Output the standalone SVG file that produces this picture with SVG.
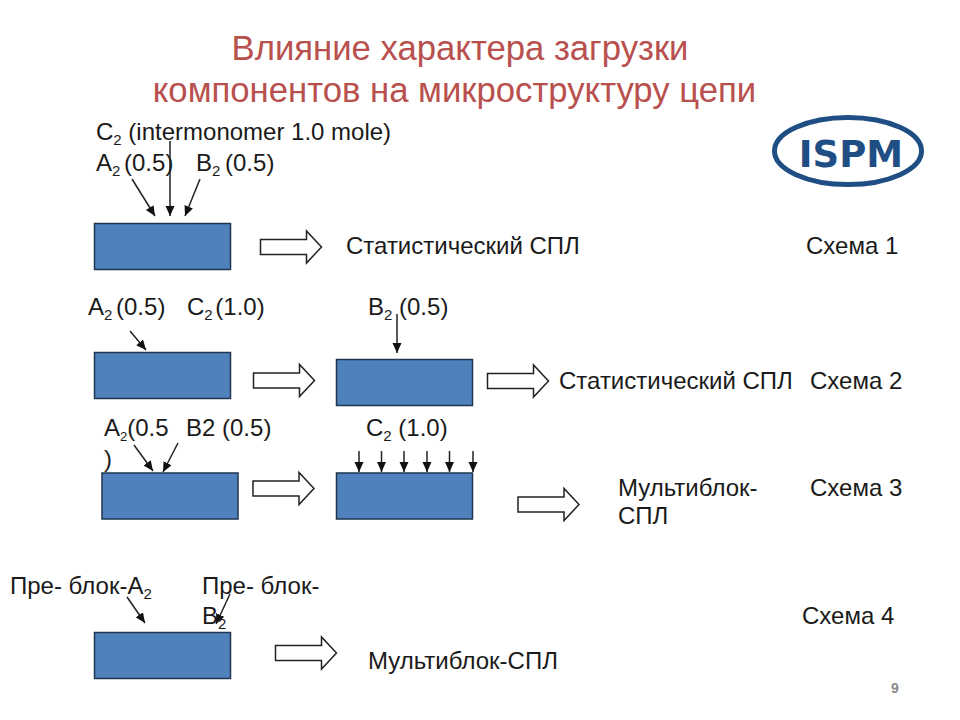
<svg xmlns="http://www.w3.org/2000/svg" width="960" height="720" viewBox="0 0 960 720">
<style>
text{font-family:"Liberation Sans",Arial,sans-serif;font-size:24px;fill:#1a1a1a}
.t{font-size:34.700px;fill:#b8504d;text-anchor:middle}
.s{font-size:15px}
.n{font-size:13px}
.b{fill:#4f81bd;stroke:#1f3550;stroke-width:1.5}
.a{fill:#fff;stroke:#222;stroke-width:1.5}
.c line{stroke:#222;stroke-width:1.5;marker-end:url(#m)}
</style>
<defs>
<marker id="m" markerUnits="userSpaceOnUse" markerWidth="12" markerHeight="12" refX="10" refY="4.500" orient="auto"><path d="M0,0L10,4.500L0,9z" fill="#111"/></marker>
<path id="ba" d="M0,-7.500H46V-16L61,0L46,16V7.500H0z"/>
</defs>
<rect width="960" height="720" fill="#fff"/>
<g id="title"><text class="t" x="460" y="60">Влияние характера загрузки</text><text class="t" x="454.500" y="102">компонентов на микроструктуру цепи</text></g>
<g id="logo"><ellipse cx="848" cy="151" rx="73.500" ry="33.500" fill="#fff" stroke="#1f4e85" stroke-width="5"/><text x="851" y="167" text-anchor="middle" style="font-family:'DejaVu Sans',sans-serif;font-weight:700;font-size:37px;fill:#1f4e85">ISPM</text></g>
<g id="scheme1"><rect class="b" x="94.500" y="223.500" width="136" height="46"/><use href="#ba" class="a" x="260.500" y="247"/>
<text x="96" y="140">C<tspan class="s" dy="5">2</tspan><tspan dy="-5"> (intermonomer 1.0 mole)</tspan></text>
<text x="96" y="171">A<tspan class="s" dy="5">2</tspan><tspan dy="-5" style="word-spacing:-3px"> (0.5)</tspan></text>
<text x="196" y="171">B<tspan class="s" dy="5">2</tspan><tspan dy="-5" style="word-spacing:-2px"> (0.5)</tspan></text>
<text x="346" y="254">Статистический СПЛ</text><text x="806" y="254">Схема 1</text></g>
<g id="scheme2"><rect class="b" x="94.500" y="352.500" width="136" height="46"/><use href="#ba" class="a" x="253.500" y="380.500"/><rect class="b" x="336.500" y="359.500" width="136" height="46"/><use href="#ba" class="a" x="487.500" y="381"/>
<text x="88" y="315">A<tspan class="s" dy="5">2</tspan><tspan dy="-5" style="word-spacing:-3px"> (0.5)</tspan></text>
<text x="187" y="315">C<tspan class="s" dy="5">2</tspan><tspan dy="-5" style="word-spacing:-4px"> (1.0)</tspan></text>
<text x="368" y="315">B<tspan class="s" dy="5">2</tspan><tspan dy="-5"> (0.5)</tspan></text>
<text x="559" y="389">Статистический СПЛ</text><text x="810" y="389">Схема 2</text></g>
<g id="scheme3"><rect class="b" x="102" y="473" width="136" height="46"/><use href="#ba" class="a" x="253" y="488.500"/><rect class="b" x="336.500" y="473" width="136" height="46"/><use href="#ba" class="a" x="518" y="504.500"/>
<text x="104" y="436">A<tspan class="n" dy="5">2</tspan><tspan dy="-5">(0.5</tspan></text><text x="104" y="467">)</text>
<text x="186" y="436">B2 (0.5)</text>
<text x="366" y="436">C<tspan class="s" dy="5">2</tspan><tspan dy="-5"> (1.0)</tspan></text>
<text x="618" y="496">Мультиблок-</text><text x="618" y="524">СПЛ</text><text x="810" y="496">Схема 3</text></g>
<g id="scheme4"><rect class="b" x="94.500" y="632.500" width="136" height="46"/><use href="#ba" class="a" x="275.500" y="653"/>
<text x="10" y="594">Пре- блок-A<tspan class="s" dy="5">2</tspan></text>
<text x="202" y="594">Пре- блок-</text><text x="202" y="624">B<tspan class="s" dy="5">2</tspan></text>
<text x="368" y="669">Мультиблок-СПЛ</text><text x="802" y="624">Схема 4</text></g>
<g id="connectors" class="c">
<line x1="132" y1="179" x2="155" y2="216"/><line x1="170" y1="141" x2="170" y2="216"/><line x1="200" y1="179" x2="185" y2="216"/>
<line x1="130" y1="331" x2="146" y2="350"/><line x1="397" y1="314" x2="397" y2="353"/>
<line x1="134" y1="445" x2="153" y2="471"/><line x1="178" y1="443" x2="163" y2="472"/>
<line x1="359" y1="451" x2="359" y2="472"/><line x1="381.500" y1="451" x2="381.500" y2="472"/><line x1="404" y1="451" x2="404" y2="472"/><line x1="427" y1="451" x2="427" y2="472"/><line x1="449.500" y1="451" x2="449.500" y2="472"/><line x1="473" y1="451" x2="473" y2="472"/>
<line x1="127" y1="597" x2="145" y2="623"/><line x1="230" y1="594" x2="216" y2="624"/>
</g>
<text x="891" y="693" style="font-size:14px;font-weight:700;fill:#8a8a8a">9</text>
</svg>
